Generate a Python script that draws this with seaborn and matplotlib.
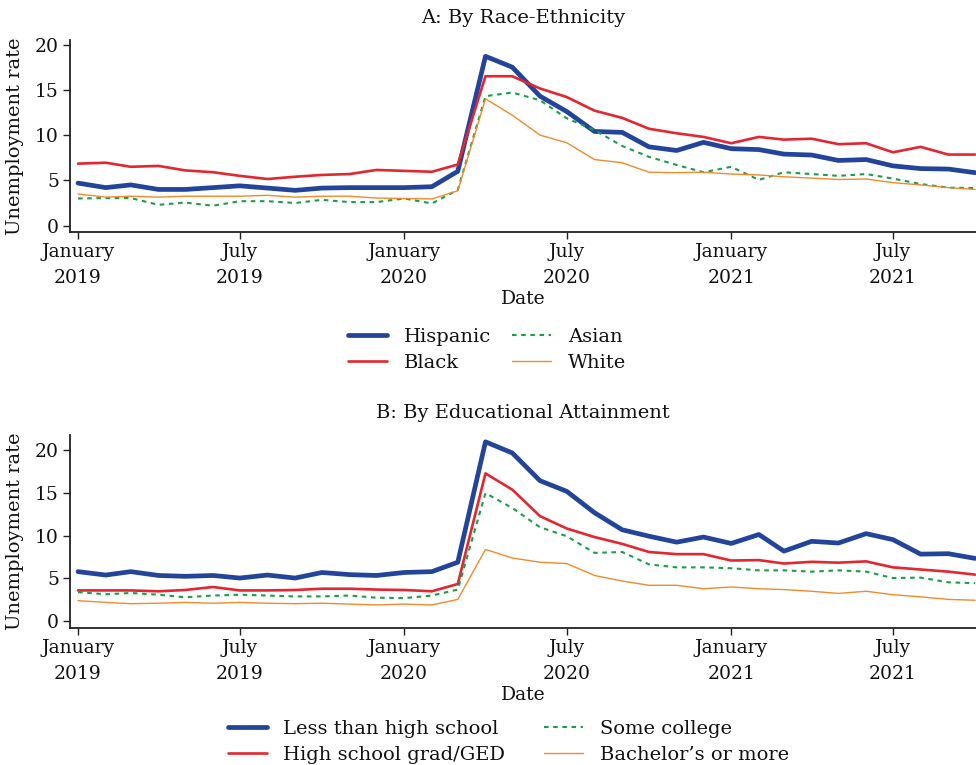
import matplotlib
matplotlib.use("Agg")
import matplotlib.pyplot as plt
import seaborn as sns
import pandas as pd
import numpy as np

# ---------------- data ----------------
months = pd.date_range("2019-01-01", "2021-10-01", freq="MS")

hispanic = [4.7, 4.2, 4.5, 4.0, 4.0, 4.2, 4.4, 4.15, 3.9, 4.15, 4.2, 4.2,
            4.2, 4.3, 6.0, 18.7, 17.5, 14.3, 12.6, 10.4, 10.3, 8.7, 8.3, 9.2,
            8.5, 8.4, 7.9, 7.8, 7.2, 7.3, 6.6, 6.3, 6.25, 5.85]
black = [6.85, 6.95, 6.5, 6.6, 6.1, 5.9, 5.5, 5.15, 5.4, 5.6, 5.7, 6.15,
         6.05, 5.95, 6.75, 16.5, 16.5, 15.15, 14.2, 12.7, 11.9, 10.7, 10.2, 9.8,
         9.1, 9.8, 9.5, 9.6, 9.0, 9.1, 8.1, 8.7, 7.85, 7.85]
asian = [3.0, 3.05, 3.05, 2.3, 2.55, 2.2, 2.7, 2.7, 2.5, 2.85, 2.6, 2.6,
         3.0, 2.45, 3.95, 14.3, 14.7, 13.85, 11.85, 10.55, 8.8, 7.6, 6.7, 5.9,
         6.5, 5.05, 5.9, 5.7, 5.5, 5.7, 5.2, 4.6, 4.2, 4.15]
white = [3.5, 3.15, 3.25, 3.15, 3.25, 3.25, 3.25, 3.35, 3.15, 3.25, 3.25, 3.05,
         3.0, 2.95, 3.85, 14.0, 12.2, 10.0, 9.15, 7.3, 6.95, 5.9, 5.85, 5.9,
         5.7, 5.6, 5.4, 5.25, 5.1, 5.15, 4.75, 4.5, 4.2, 4.0]

less_hs = [5.8, 5.4, 5.8, 5.35, 5.25, 5.35, 5.05, 5.4, 5.05, 5.7, 5.45, 5.35,
           5.7, 5.8, 6.9, 21.0, 19.7, 16.45, 15.2, 12.7, 10.7, 9.95, 9.25, 9.85,
           9.1, 10.15, 8.2, 9.35, 9.15, 10.25, 9.55, 7.85, 7.9, 7.35]
hs_grad = [3.6, 3.6, 3.6, 3.5, 3.65, 4.0, 3.6, 3.6, 3.65, 3.8, 3.8, 3.7,
           3.65, 3.5, 4.35, 17.3, 15.4, 12.3, 10.85, 9.85, 9.05, 8.1, 7.85, 7.85,
           7.1, 7.15, 6.75, 6.95, 6.85, 7.0, 6.3, 6.05, 5.8, 5.45]
some_college = [3.4, 3.15, 3.3, 3.1, 2.8, 3.0, 3.1, 3.0, 2.9, 2.9, 3.0, 2.75,
                2.7, 3.0, 3.7, 15.0, 13.25, 11.0, 9.95, 8.0, 8.1, 6.65, 6.3, 6.3,
                6.2, 5.95, 5.95, 5.8, 5.95, 5.8, 5.05, 5.1, 4.55, 4.45]
bachelors = [2.4, 2.2, 2.05, 2.1, 2.2, 2.1, 2.2, 2.1, 2.05, 2.1, 2.0, 1.9,
             2.0, 1.9, 2.55, 8.4, 7.4, 6.9, 6.75, 5.35, 4.7, 4.2, 4.2, 3.8,
             4.0, 3.8, 3.7, 3.5, 3.25, 3.5, 3.1, 2.85, 2.55, 2.45]

race_labels = ["Hispanic", "Black", "Asian", "White"]
edu_labels = ["Less than high school", "High school grad/GED",
              "Some college", "Bachelor\u2019s or more"]
titles = ["A: By Race-Ethnicity", "B: By Educational Attainment"]
tick_dates = ["2019-01-01", "2019-07-01", "2020-01-01",
              "2020-07-01", "2021-01-01", "2021-07-01"]
tick_labels = ["January\n2019", "July\n2019", "January\n2020",
               "July\n2020", "January\n2021", "July\n2021"]
y_ticks = [0, 5, 10, 15, 20]

# ---------------- styling ----------------
sns.set_theme(style="white")
plt.rcParams["font.family"] = ["DejaVu Serif"]
plt.rcParams["font.size"] = 13.5
plt.rcParams["text.color"] = "#111111"

colors = ["#22449a", "#e3262f", "#1a9e4a", "#f08a2c"]
widths = [3.4, 1.9, 1.5, 1.0]
styles = ["-", "-", (0, (2.2, 2.2)), "-"]

fig = plt.figure(figsize=(9.76, 7.65), dpi=100)
axA = fig.add_axes([70 / 976, 1 - 232 / 765, 1 - 70 / 976, 192 / 765])
axB = fig.add_axes([70 / 976, 1 - 628 / 765, 1 - 70 / 976, 193 / 765])

panels = [
    (axA, [hispanic, black, asian, white], race_labels, (-0.7, 20.5)),
    (axB, [less_hs, hs_grad, some_college, bachelors], edu_labels, (-0.8, 21.8)),
]

for ax, series, labels, ylim in panels:
    for vals, lab, c, lw, ls in zip(series, labels, colors, widths, styles):
        df = pd.DataFrame({"Date": months, "rate": vals})
        sns.lineplot(data=df, x="Date", y="rate", ax=ax, color=c,
                     linewidth=lw, linestyle=ls, label=lab, legend=False)
    ax.set_xlim(pd.Timestamp("2018-12-23"), pd.Timestamp("2021-10-02"))
    ax.set_ylim(*ylim)
    ax.set_xticks(pd.to_datetime(tick_dates))
    ax.set_xticklabels(tick_labels, linespacing=1.55, color="#111111")
    ax.set_yticks(y_ticks)
    ax.set_yticklabels([str(v) for v in y_ticks], color="#111111")
    ax.set_ylabel("Unemployment rate", fontsize=14, labelpad=8, color="#111111")
    ax.set_xlabel("Date", fontsize=13.5, labelpad=2, color="#111111")
    ax.tick_params(axis="both", which="major", direction="out", length=5,
                   width=1, color="#222222", labelsize=13.5, pad=3,
                   bottom=True, left=True)
    for s in ["top", "right"]:
        ax.spines[s].set_visible(False)
    for s in ["left", "bottom"]:
        ax.spines[s].set_color("#222222")
        ax.spines[s].set_linewidth(1.3)

axA.set_title(titles[0], fontsize=14, pad=12, color="#111111")
axB.set_title(titles[1], fontsize=14, pad=12, color="#111111")

hA, lA = axA.get_legend_handles_labels()
fig.legend(hA, lA, loc="center", bbox_to_anchor=(0.499, 1 - 350 / 765), ncol=2,
           frameon=False, fontsize=14, handlelength=2.0, handletextpad=0.85,
           columnspacing=1.1, labelspacing=0.4)
hB, lB = axB.get_legend_handles_labels()
fig.legend(hB, lB, loc="center", bbox_to_anchor=(0.521, 1 - 742 / 765), ncol=2,
           frameon=False, fontsize=14, handlelength=2.0, handletextpad=0.85,
           columnspacing=2.0, labelspacing=0.4)

fig.savefig("out.png", dpi=100)
